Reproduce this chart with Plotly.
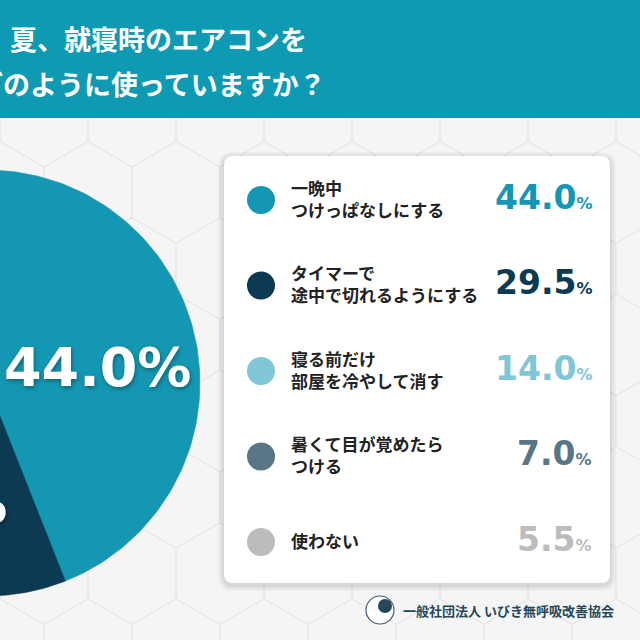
import numpy as np
import plotly.graph_objects as go

# survey answers (same order in pie and list)
answers = ["一晩中<br>つけっぱなしにする",
           "タイマーで<br>途中で切れるようにする",
           "寝る前だけ<br>部屋を冷やして消す",
           "暑くて目が覚めたら<br>つける",
           "使わない"]
shares = [44.0, 29.5, 14.0, 7.0, 5.5]
colors = ["#1497b2", "#0c3a52", "#7fc6d6", "#587686", "#bcbcbc"]

title_lines = ["夏、就寝時のエアコンを", "どのように使っていますか？"]
source = "一般社団法人 いびき無呼吸改善協会"

W = H = 640
BG = "#f5f5f5"
JP = "Noto Sans CJK JP"
NUM = "DejaVu Sans"

fig = go.Figure()

# pie drawn as filled wedges on its own unit axes (centre 0,0, radius 1)
start = 0.0
for val, col in zip(shares, colors):
    t = np.linspace(start, start + val / 100 * 2 * np.pi, 120)
    xs = np.concatenate([[0], np.sin(t), [0]])
    ys = np.concatenate([[0], np.cos(t), [0]])
    fig.add_trace(go.Scatter(x=xs, y=ys, xaxis="x2", yaxis="y2", mode="lines",
                             fill="toself", fillcolor=col, line=dict(width=0.5, color=col),
                             hoverinfo="skip", showlegend=False))
    start += val / 100 * 2 * np.pi

# legend dots
row_y = [200 + 85.5 * i for i in range(len(shares))]
fig.add_trace(go.Scatter(x=[261] * len(shares), y=row_y, mode="markers",
                         marker=dict(size=28, color=colors), hoverinfo="skip",
                         showlegend=False))

shapes = []

# faint hexagon tiles in the background
hw, side = 88.0, 88.0 / np.sqrt(3)
for r in range(-1, 10):
    cy = 40 + r * 1.5 * side
    off = 0 if r % 2 == 0 else hw / 2
    for c in range(-1, 9):
        cx = c * hw + off
        pts = [(cx + side * np.cos(np.radians(a)), cy + side * np.sin(np.radians(a)))
               for a in range(30, 390, 60)]
        path = "M" + " L".join(f"{px:.1f},{py:.1f}" for px, py in pts) + " Z"
        shapes.append(dict(type="path", path=path, xref="x", yref="y", layer="below",
                           line=dict(color="#e6e6e6", width=1), fillcolor="rgba(0,0,0,0)"))


def rrect(x0, y0, x1, y1, r):
    return (f"M{x0+r},{y0} L{x1-r},{y0} Q{x1},{y0} {x1},{y0+r} L{x1},{y1-r} "
            f"Q{x1},{y1} {x1-r},{y1} L{x0+r},{y1} Q{x0},{y1} {x0},{y1-r} "
            f"L{x0},{y0+r} Q{x0},{y0} {x0+r},{y0} Z")


# title banner
shapes.append(dict(type="rect", xref="x", yref="y", x0=0, x1=W, y0=0, y1=118,
                   fillcolor="#0e9ab3", line=dict(width=0), layer="below"))

# card with soft shadow
for k, a in [(6, 0.03), (4, 0.04), (2, 0.05)]:
    shapes.append(dict(type="path", xref="x", yref="y", layer="below",
                       path=rrect(224 - k, 156 - k + 2, 610 + k, 583 + k + 2, 9 + k),
                       fillcolor=f"rgba(0,0,0,{a})", line=dict(width=0)))
shapes.append(dict(type="path", xref="x", yref="y", layer="below",
                   path=rrect(224, 156, 610, 583, 9),
                   fillcolor="white", line=dict(width=0)))

# small logo mark next to the source
shapes.append(dict(type="circle", xref="x", yref="y", x0=366, x1=394, y0=596, y1=624,
                   line=dict(color="#3d5a6b", width=1.2), fillcolor="white"))
shapes.append(dict(type="circle", xref="x", yref="y", x0=378, x1=392, y0=599, y1=613,
                   line=dict(width=0), fillcolor="#24475a"))

annotations = []

# title text (white, bold)
annotations.append(dict(x=8, y=38, xref="x", yref="y", text=title_lines[0],
                        xanchor="left", yanchor="middle", showarrow=False,
                        font=dict(family=JP, size=27, color="white", weight="bold")))
annotations.append(dict(x=328, y=83, xref="x", yref="y", text=title_lines[1],
                        xanchor="right", yanchor="middle", showarrow=False,
                        font=dict(family=JP, size=27, color="white", weight="bold")))

# pie labels
shadow = "1px 2px 4px rgba(0,0,0,0.35)"
annotations.append(dict(x=2, y=367, xref="x", yref="y", text=f"{shares[0]:.1f}%",
                        xanchor="left", yanchor="middle", showarrow=False,
                        font=dict(family=NUM, size=54, color="white", weight="bold",
                                  shadow=shadow)))
annotations.append(dict(x=9, y=503, xref="x", yref="y", text=f"{shares[1]:.1f}%",
                        xanchor="right", yanchor="middle", showarrow=False,
                        font=dict(family=NUM, size=54, color="white", weight="bold",
                                  shadow=shadow)))

# legend rows
for lab, val, col, y in zip(answers, shares, colors, row_y):
    annotations.append(dict(x=289, y=y - 2, xref="x", yref="y", text=lab,
                            xanchor="left", yanchor="middle", align="left",
                            showarrow=False,
                            font=dict(family=JP, size=17, color="#222222", weight="bold")))
    annotations.append(dict(x=594, y=y - 3, xref="x", yref="y",
                            text=f"{val:.1f}<span style='font-size:16px'>%</span>",
                            xanchor="right", yanchor="middle", showarrow=False,
                            font=dict(family=NUM, size=33, color=col, weight="bold")))

annotations.append(dict(x=401, y=610, xref="x", yref="y", text=source,
                        xanchor="left", yanchor="middle", showarrow=False,
                        font=dict(family=JP, size=13, color="#24475a", weight="bold")))

cx, cy, rad = -13, 383, 213
fig.update_layout(
    width=W, height=H, margin=dict(l=0, r=0, t=0, b=0),
    paper_bgcolor=BG, plot_bgcolor=BG,
    xaxis=dict(range=[0, W], visible=False, fixedrange=True),
    yaxis=dict(range=[H, 0], visible=False, fixedrange=True),
    xaxis2=dict(range=[(0 - cx) / rad, (W - cx) / rad], overlaying="x",
                visible=False, fixedrange=True),
    yaxis2=dict(range=[(cy - H) / rad, cy / rad], overlaying="y",
                visible=False, fixedrange=True),
    shapes=shapes, annotations=annotations, showlegend=False,
)

fig.write_html("out.html", config={"displayModeBar": False},
               post_script="document.body.style.margin='0';"
                           "document.body.style.overflow='hidden';")
